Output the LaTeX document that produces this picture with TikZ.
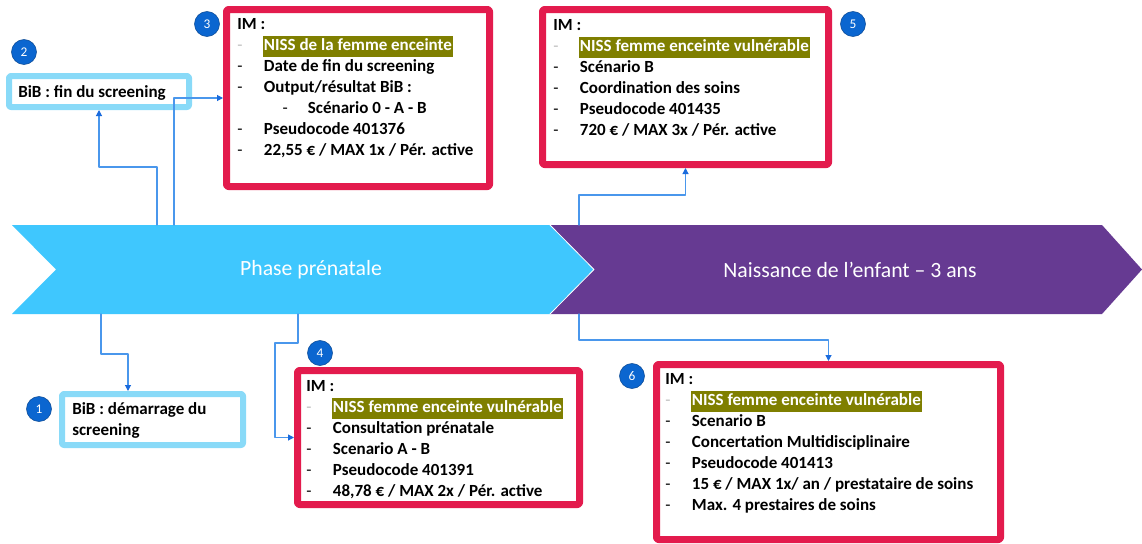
\documentclass[tikz,border=0pt]{standalone}
\usepackage{fontspec}
\setmainfont{Carlito}
\usepackage{xcolor}
\usetikzlibrary{arrows.meta,calc}
\definecolor{chevblue}{HTML}{3FC7FE}
\definecolor{chevpurple}{HTML}{663A92}
\definecolor{imred}{HTML}{E31B4D}
\definecolor{bibblue}{HTML}{89DAF8}
\definecolor{numblue}{HTML}{0B66D0}
\definecolor{linkblue}{HTML}{4A97EC}
\definecolor{arrowblue}{HTML}{1A6BDD}
\definecolor{hlolive}{HTML}{7F7F00}
\definecolor{dashgrey}{HTML}{BFBFBF}
\newcommand{\imfont}{\fontsize{12.75pt}{15.75pt}\selectfont\bfseries}
\newcommand{\imdash}[1]{\strut\makebox[20pt][l]{\mdseries-}#1}
\newcommand{\imhl}[1]{\strut\makebox[19pt][l]{\mdseries\textcolor{dashgrey}{-}}{\setlength{\fboxsep}{0pt}\colorbox{hlolive}{\kern1pt\textcolor{white}{\strut#1}\kern1pt}}}
\newcommand{\imsub}[1]{\strut\hspace{34pt}\makebox[19pt][l]{\mdseries-}#1}
\tikzset{
  chevtext/.style={inner sep=0pt, outer sep=0pt, minimum height=66.75pt, text=white,
    font=\fontsize{16.3pt}{19pt}\selectfont},
  imbox/.style={draw=imred, line width=5.25pt, fill=white, rounded corners=1.5pt, inner sep=0pt},
  bibbox/.style={draw=bibblue, line width=4.5pt, fill=white, rounded corners=1.5pt, inner sep=0pt},
  imtxt/.style={anchor=north west, inner sep=0pt, align=left, font=\imfont},
  num/.style={circle, fill=numblue, draw=numblue!70!black, line width=0.4pt, minimum size=18.75pt,
    inner sep=0pt, text=white, font=\fontsize{10pt}{11pt}\selectfont},
  link/.style={draw=linkblue, line width=0.8pt, -{Triangle[length=4.5pt,width=4.5pt,color=arrowblue]}}
}

\begin{document}
\begin{tikzpicture}[line cap=round,line join=round,x=0.75pt,y=-0.75pt]
\useasboundingbox[fill=white] (0,0) rectangle (1142,543);
% phases
\fill[chevblue] (12,225) -- (550,225) -- (594,269.5) -- (550,314) -- (12,314) -- (56,269.5) -- cycle;
\fill[chevpurple] (550,225) -- (1102,225) -- (1142,269.5) -- (1102,314) -- (550,314) -- (594,269.5) -- cycle;
\draw[white, line width=0.6pt] (550,225) -- (594,269.5) -- (550,314);
\node[chevtext, minimum width=424.5pt] (pre) at (311,269.5) {Phase prénatale};
\node[chevtext, minimum width=450pt] (post) at (850,269.5) {Naissance de l’enfant – 3 ans};
% BiB boxes
\node[bibbox, minimum width=135pt, minimum height=23.25pt] (bib2) at (99,91.5) {};
\node[imtxt] (bib2t) at ($(bib2.north west)+(12,9.8)$) {\strut BiB : fin du screening};
\node[bibbox, minimum width=135.75pt, minimum height=38.25pt] (bib1) at (152.5,419.5) {};
\node[imtxt] (bib1t) at ($(bib1.north west)+(13,8.8)$) {\strut BiB : démarrage du\\\strut screening};
% IM boxes
\node[imbox, minimum width=197.25pt, minimum height=132.75pt] (im3) at (358,98) {};
\node[imtxt] (im3t) at ($(im3.north west)+(14,8.8)$) {\strut IM :\\
  \imhl{NISS de la femme enceinte}\\
  \imdash{Date de fin du screening}\\
  \imdash{Output/résultat BiB :}\\
  \imsub{Scénario 0 - A - B}\\
  \imdash{Pseudocode 401376}\\
  \imdash{22,55 € / MAX 1x / Pér. active}};
\node[imbox, minimum width=214.5pt, minimum height=116.25pt] (im5) at (685.5,87) {};
\node[imtxt] (im5t) at ($(im5.north west)+(14,9.3)$) {\strut IM :\\
  \imhl{NISS femme enceinte vulnérable}\\
  \imdash{Scénario B}\\
  \imdash{Coordination des soins}\\
  \imdash{Pseudocode 401435}\\
  \imdash{720 € / MAX 3x / Pér. active}};
\node[imbox, minimum width=211.5pt, minimum height=100.5pt] (im4) at (438.5,437.5) {};
\node[imtxt] (im4t) at ($(im4.north west)+(12,9.8)$) {\strut IM :\\
  \imhl{NISS femme enceinte vulnérable}\\
  \imdash{Consultation prénatale}\\
  \imdash{Scenario A - B}\\
  \imdash{Pseudocode 401391}\\
  \imdash{48,78 € / MAX 2x / Pér. active}};
\node[imbox, minimum width=258pt, minimum height=131.25pt] (im6) at (828.5,452) {};
\node[imtxt] (im6t) at ($(im6.north west)+(12,8.8)$) {\strut IM :\\
  \imhl{NISS femme enceinte vulnérable}\\
  \imdash{Scenario B}\\
  \imdash{Concertation Multidisciplinaire}\\
  \imdash{Pseudocode 401413}\\
  \imdash{15 € / MAX 1x/ an / prestataire de soins}\\
  \imdash{Max. 4 prestaires de soins}};
% numbers
\node[num] (n1) at (39,409) {1};
\node[num] (n2) at (24,52) {2};
\node[num] (n3) at (207,24) {3};
\node[num] (n4) at (320,353) {4};
\node[num] (n5) at (853,24) {5};
\node[num] (n6) at (632,376) {6};
% links
\draw[link] ($(pre.north west)+(129,0)$) -- ++(0,-58) -| (bib2.south);
\draw[link] ($(pre.north west)+(146,0)$) |- (im3.west);
\draw[link] ($(post.north west)+(29,0)$) -- ++(0,-30) -| (im5.south);
\draw[link] ($(pre.south west)+(73,0)$) -- ++(0,40) -| ($(bib1.north west)+(69,0)$);
\draw[link] ($(pre.south west)+(270,0)$) -- ++(0,29) -- ++(-23,0) |- (im4.west);
\draw[link] ($(post.south west)+(29,0)$) -- ++(0,26) -| (im6.north);
\end{tikzpicture}
\end{document}
